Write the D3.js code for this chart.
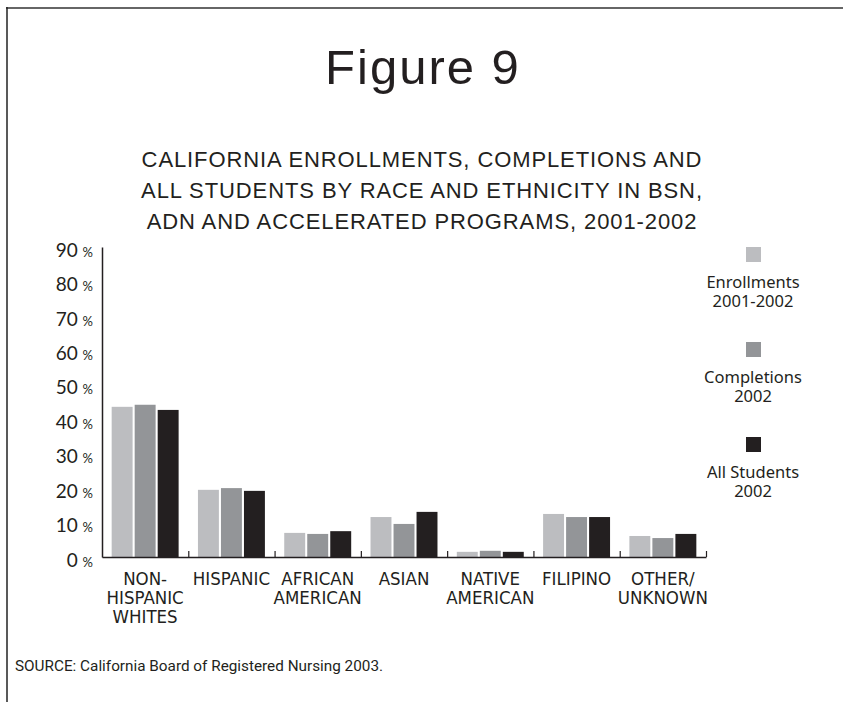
<!DOCTYPE html>
<html>
<head>
<meta charset="utf-8">
<script src="https://cdn.jsdelivr.net/npm/d3@7"></script>
<style>
  body { margin: 0; background: #fff; }
  svg { display: block; }
</style>
</head>
<body>
<div id="chart"></div>
<script>
// groups along the x axis (label lines)
const groups = [
  ["NON-", "HISPANIC", "WHITES"],
  ["HISPANIC"],
  ["AFRICAN", "AMERICAN"],
  ["ASIAN"],
  ["NATIVE", "AMERICAN"],
  ["FILIPINO"],
  ["OTHER/", "UNKNOWN"]
];
const seriesNames = [["Enrollments", "2001-2002"], ["Completions", "2002"], ["All Students", "2002"]];
const seriesColors = ["#bcbdc0", "#939598", "#231f20"];

// percent values
const enrollments = [43.6, 19.5, 7.0, 11.6, 1.5, 12.5, 6.1];
const completions = [44.2, 20.0, 6.7, 9.6, 1.8, 11.6, 5.5];
const allStudents = [42.7, 19.2, 7.5, 13.1, 1.5, 11.6, 6.7];
const yTicks = [0, 10, 20, 30, 40, 50, 60, 70, 80, 90];

const width = 843, height = 702;
const values = [enrollments, completions, allStudents];

const svg = d3.select("#chart").append("svg")
    .attr("width", width)
    .attr("height", height);

// frame: top and left rules only
svg.append("line").attr("x1", 6).attr("x2", width).attr("y1", 8).attr("y2", 8)
    .attr("stroke", "#666").attr("stroke-width", 2);
svg.append("line").attr("x1", 7).attr("x2", 7).attr("y1", 7).attr("y2", height)
    .attr("stroke", "#222").attr("stroke-width", 1.5);

svg.append("text")
    .attr("x", 423).attr("y", 84)
    .attr("text-anchor", "middle")
    .attr("font-family", "Liberation Sans, Arial, sans-serif")
    .attr("font-size", 49)
    .attr("letter-spacing", 2)
    .attr("fill", "#231f20")
    .text("Figure 9");

const subtitle = [
  "CALIFORNIA ENROLLMENTS, COMPLETIONS AND",
  "ALL STUDENTS BY RACE AND ETHNICITY IN BSN,",
  "ADN AND ACCELERATED PROGRAMS, 2001-2002"
];
svg.append("g")
    .attr("font-family", "Liberation Sans, Arial, sans-serif")
    .attr("font-size", 22)
    .attr("letter-spacing", 0.9)
    .attr("fill", "#231f20")
    .attr("text-anchor", "middle")
  .selectAll("text")
  .data(subtitle)
  .join("text")
    .attr("x", 422)
    .attr("y", (d, i) => 167 + i * 31)
    .text(d => d);

const x0 = d3.scaleBand()
    .domain(d3.range(groups.length))
    .range([102, 706])
    .paddingInner(0.224)
    .paddingOuter(0.112);
const x1 = d3.scaleBand()
    .domain(d3.range(3))
    .range([0, x0.bandwidth()])
    .paddingInner(0.09);
const y = d3.scaleLinear().domain([0, 90]).range([557, 247]);

// bars
const g = svg.append("g");
g.selectAll("g")
  .data(values)
  .join("g")
    .attr("fill", (d, i) => seriesColors[i])
  .selectAll("rect")
  .data((d, si) => d.map((v, gi) => ({v, gi, si})))
  .join("rect")
    .attr("x", d => x0(d.gi) + x1(d.si))
    .attr("width", x1.bandwidth())
    .attr("y", d => y(d.v))
    .attr("height", d => y(0) - y(d.v));

// y axis
const yAxis = svg.append("g")
    .attr("transform", "translate(102,0)")
    .call(d3.axisLeft(y).tickValues(yTicks).tickSize(0).tickPadding(9).tickFormat(""));
yAxis.select(".domain").attr("stroke", "#231f20").attr("stroke-width", 1.5);
yAxis.selectAll(".tick text")
    .attr("dy", "0.32em")
    .attr("transform", "translate(0,6)")
    .attr("font-family", "Lato, sans-serif")
    .attr("fill", "#231f20")
    .each(function(d) {
      const t = d3.select(this);
      t.append("tspan").attr("font-size", 19).text(d + " ");
      t.append("tspan").attr("font-size", 13).text("%");
    });

// x axis with small upward ticks between groups
const xb = d3.scaleLinear().domain([0, groups.length]).range([102, 706]);
const xAxis = svg.append("g")
    .attr("transform", "translate(0,557)")
    .call(d3.axisBottom(xb).tickValues(d3.range(1, groups.length + 1)).tickSizeInner(-6).tickSizeOuter(0).tickFormat(""));
xAxis.select(".domain").attr("stroke", "#231f20").attr("stroke-width", 1.5);
xAxis.selectAll(".tick line").attr("stroke", "#231f20").attr("stroke-width", 1.2);

// category labels
svg.append("g")
    .attr("font-family", "DejaVu Sans Condensed, sans-serif")
    .attr("font-size", 18.5)
    .attr("fill", "#231f20")
    .attr("text-anchor", "middle")
  .selectAll("text")
  .data(groups)
  .join("text")
    .attr("x", (d, i) => x0(i) + x0.bandwidth() / 2)
    .attr("y", 585)
  .selectAll("tspan")
  .data(d => d)
  .join("tspan")
    .attr("x", function() { return this.parentNode.getAttribute("x"); })
    .attr("dy", (d, i) => i === 0 ? 0 : 19)
    .text(d => d);

// legend
const legendY = [247, 342, 437];
const legend = svg.append("g")
    .attr("font-family", "Noto Sans, sans-serif")
    .attr("font-size", 16.5)
    .attr("fill", "#231f20")
    .attr("text-anchor", "middle")
  .selectAll("g")
  .data(seriesNames)
  .join("g")
    .attr("transform", (d, i) => `translate(753,${legendY[i]})`);
legend.append("rect")
    .attr("x", -7).attr("width", 15).attr("height", 15)
    .attr("fill", (d, i) => seriesColors[i]);
legend.selectAll("text")
    .data(d => d)
    .join("text")
    .attr("x", 0)
    .attr("y", (d, i) => 41 + i * 19)
    .text(d => d);

svg.append("text")
    .attr("x", 15).attr("y", 671)
    .attr("font-family", "Roboto, sans-serif")
    .attr("font-size", 15.3)
    .attr("fill", "#231f20")
    .text("SOURCE: California Board of Registered Nursing 2003.");
</script>
</body>
</html>
